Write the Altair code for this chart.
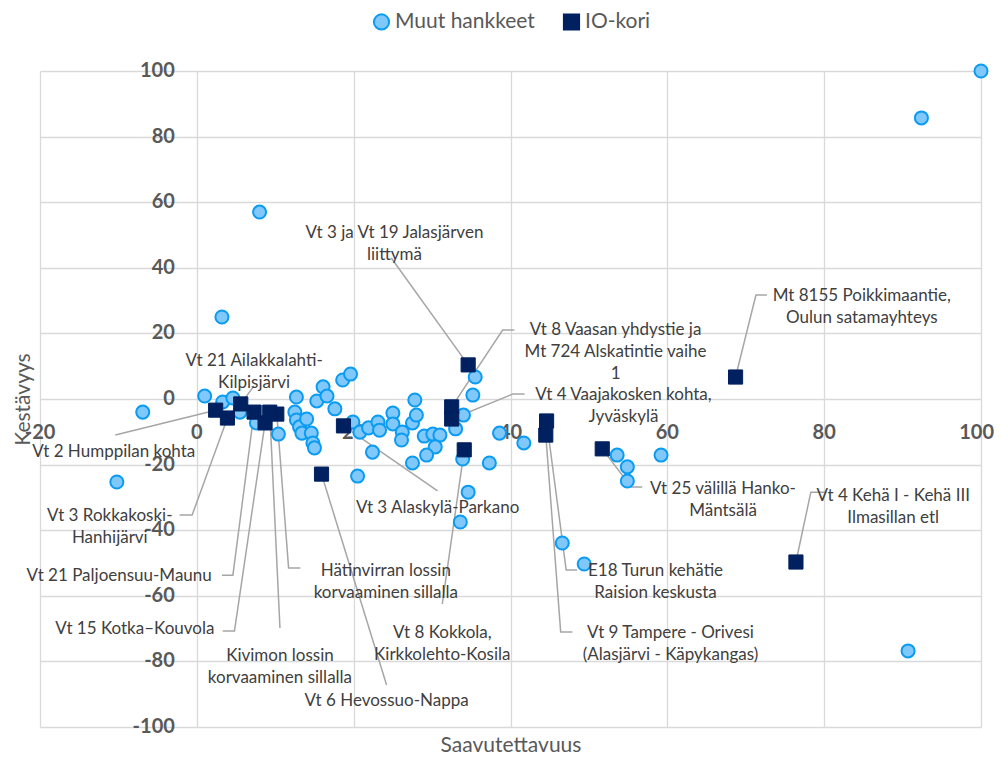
import altair as alt
import pandas as pd

# ---------------- data ----------------
muut_x = [100, 92.4, 8.0, 3.2, -6.9, -10.2, 90.7, 49.4, 46.6, 33.6, 34.6, 41.7, 38.6, 37.3,
          35.5, 35.2, 34.0, 33.0, 33.9, 53.6, 54.9, 54.9, 59.2, 20.5, 27.5,
          1.0, 3.3, 4.6, 5.5, 7.6, 10.4, 12.7, 12.5, 12.7, 13.1, 13.4, 14.0, 14.6, 14.8, 15.0,
          15.3, 16.1, 16.6, 17.6, 18.6, 19.6, 19.9, 20.8, 21.9, 22.4, 23.1, 23.3,
          25.0, 25.0, 26.2, 26.1, 27.5, 28.0, 27.8, 29.0, 30.1, 31.0, 30.4, 29.3]
muut_y = [100, 85.7, 57.0, 25.0, -4.0, -25.3, -76.8, -50.3, -43.9, -37.5, -28.4, -13.4, -10.4, -19.5,
          6.7, 1.2, -4.9, -9.1, -18.3, -17.1, -20.7, -25.0, -17.1, -23.5, -19.5,
          0.9, -0.9, 0.3, -4.0, -7.3, -10.7, 0.6, -4.0, -6.4, -8.5, -10.4, -6.1, -10.4, -13.4, -14.9,
          -0.6, 3.7, 0.9, -3.0, 5.8, 7.6, -7.0, -10.1, -8.8, -16.2, -7.0, -9.5,
          -4.3, -7.6, -10.1, -12.5, -7.3, -4.9, -0.3, -11.3, -10.7, -11.0, -14.6, -17.1]

io_names = ["Vt 3 ja Vt 19 Jalasjärven\nliittymä",
            "Vt 8 Vaasan yhdystie ja\nMt 724 Alskatintie vaihe\n1",
            "Vt 4 Vaajakosken kohta,\nJyväskylä",
            "Mt 8155 Poikkimaantie,\nOulun satamayhteys",
            "Vt 4 Kehä I - Kehä III\nIlmasillan etl",
            "Vt 25 välillä Hanko-\nMäntsälä",
            "E18 Turun kehätie\nRaision keskusta",
            "Vt 9 Tampere - Orivesi\n(Alasjärvi - Käpykangas)",
            "Vt 3 Alaskylä-Parkano",
            "Vt 8 Kokkola,\nKirkkolehto-Kosila",
            "Vt 6 Hevossuo-Nappa",
            "Hätinvirran lossin\nkorvaaminen sillalla",
            "Vt 21 Ailakkalahti-\nKilpisjärvi",
            "Vt 2 Humppilan kohta",
            "Vt 3 Rokkakoski-\nHanhijärvi",
            "Vt 21 Paljoensuu-Maunu",
            "Vt 15 Kotka–Kouvola",
            "Kivimon lossin\nkorvaaminen sillalla"]
io_x = [34.6, 32.5, 32.5, 68.7, 76.4, 51.7, 44.6, 44.5, 18.7, 34.1, 15.9, 10.2, 5.6, 2.4, 3.9, 7.3, 8.7, 9.3]
io_y = [10.4, -2.4, -6.1, 6.7, -49.7, -15.2, -6.7, -11.0, -8.2, -15.5, -22.9, -4.6, -1.5, -3.4, -5.8, -4.0, -7.3, -4.0]

# label anchor (centre of text block) for each IO-kori project
label_x = [25.2, 53.4, 54.4, 84.8, 88.8, 67.1, 58.5, 60.4, 30.7, 31.3, 24.2, 24.1, 7.3, -10.6, -11.1, -9.9, -7.9, 10.6]
label_y = [50.6, 21.0, 1.1, 31.3, -29.6, -27.4, -52.4, -71.2, -33.2, -71.2, -92.1, -52.3, 11.6, -16.2, -35.7, -54.0, -70.1, -78.5]

# leader-line bend points (after the marker) for each label
leader_x = [[24.8], [39.0, 40.5], [40.3, 41.8], [71.3, 72.7], [78.3, 80.3], [55.4, 56.8],
            [47.1, 48.5], [46.4, 47.9], [30.7], [31.3], [24.2], [11.7, 13.2], [7.3], [-10.4],
            [-0.6, -2.2], [4.6, 3.2], [4.8, 3.3], [10.6]]
leader_y = [[43.0], [21.0, 21.0], [1.5, 1.5], [31.7, 31.7], [-28.4, -28.4], [-26.8, -26.8],
            [-52.1, -52.1], [-71.0, -71.0], [-28.0], [-62.5], [-87.2], [-51.5, -51.5], [4.0], [-11.0],
            [-35.4, -35.4], [-53.7, -53.7], [-70.7, -70.7], [-69.8]]

x_ticks = [-20, 0, 20, 40, 60, 80, 100]
y_ticks = [-100, -80, -60, -40, -20, 0, 20, 40, 60, 80, 100]

series = ["Muut hankkeet", "IO-kori"]

# ---------------- frames ----------------
pts = pd.DataFrame({"x": muut_x + io_x, "y": muut_y + io_y,
                    "grp": [series[0]] * len(muut_x) + [series[1]] * len(io_x)})
lab = pd.DataFrame({"x": label_x, "y": label_y, "t": io_names})
rows = []
for i in range(len(io_names)):
    xs_ = [io_x[i]] + leader_x[i]
    ys_ = [io_y[i]] + leader_y[i]
    for k, (a, b) in enumerate(zip(xs_, ys_)):
        rows.append({"id": i, "k": k, "x": a, "y": b})
lead = pd.DataFrame(rows)
xt = pd.DataFrame({"x": x_ticks[:-1], "y": [0] * (len(x_ticks) - 1),
                   "t": [str(v) for v in x_ticks[:-1]]})
xt_last = pd.DataFrame({"x": [x_ticks[-1]], "y": [0], "t": [str(x_ticks[-1])]})
yt = pd.DataFrame({"x": [0] * len(y_ticks), "y": y_ticks, "t": [str(v) for v in y_ticks]})

FONT = "Lato"
GRID = "#d9d9d9"

xaxis = alt.Axis(values=x_ticks, labels=False, ticks=False, domain=False, grid=True,
                 gridColor=GRID, gridWidth=1.3, title="Saavutettavuus",
                 titleFont=FONT, titleFontSize=21, titleFontWeight="normal",
                 titleColor="#595959", titlePadding=7)
yaxis = alt.Axis(values=y_ticks, labels=False, ticks=False, domain=False, grid=True,
                 gridColor=GRID, gridWidth=1.3, title="Kestävyys",
                 titleFont=FONT, titleFontSize=21, titleFontWeight="normal",
                 titleColor="#595959", titlePadding=7)
xs = alt.Scale(domain=[-20, 100], nice=False, zero=False)
ys = alt.Scale(domain=[-100, 100], nice=False, zero=False)

def X():
    return alt.X("x:Q", scale=xs, axis=xaxis)

def Y():
    return alt.Y("y:Q", scale=ys, axis=yaxis)

fill = alt.Fill("grp:N", scale=alt.Scale(domain=series, range=["#80C8FA", "#002060"]),
                legend=alt.Legend(title=None))
stroke = alt.Stroke("grp:N", scale=alt.Scale(domain=series, range=["#0A9BF2", "#002060"]),
                    legend=alt.Legend(title=None))
shape = alt.Shape("grp:N", scale=alt.Scale(domain=series, range=["circle", "square"]),
                  legend=alt.Legend(title=None))

leaders = alt.Chart(lead).mark_line(color="#a6a6a6", strokeWidth=1.5).encode(
    x=X(), y=Y(), detail="id:N", order="k:Q")

circles = alt.Chart(pts).transform_filter(alt.datum.grp == series[0]).mark_point(
    filled=True, opacity=1, strokeWidth=2, size=170).encode(
    x=X(), y=Y(), fill=fill, stroke=stroke, shape=shape)

squares = alt.Chart(pts).transform_filter(alt.datum.grp == series[1]).mark_point(
    filled=True, opacity=1, strokeWidth=1, size=200).encode(
    x=X(), y=Y(), fill=fill, stroke=stroke, shape=shape)

labels = alt.Chart(lab).mark_text(font=FONT, fontSize=17, color="#404040",
                                  lineBreak="\n", lineHeight=22, align="center",
                                  baseline="middle").encode(x=X(), y=Y(), text="t:N")

tick_style = dict(font=FONT, fontSize=20, fontWeight="bold", color="#595959", baseline="middle")
xtl = alt.Chart(xt).mark_text(align="center", dy=34, **tick_style).encode(
    x=X(), y=Y(), text="t:N")
xtl_last = alt.Chart(xt_last).mark_text(align="right", dx=13, dy=34, **tick_style).encode(
    x=X(), y=Y(), text="t:N")
ytl = alt.Chart(yt).mark_text(align="right", dx=-22, **tick_style).encode(
    x=X(), y=Y(), text="t:N")

chart = alt.layer(xtl, xtl_last, ytl, leaders, circles, squares, labels).properties(
    width=941, height=656,
    autosize=alt.AutoSizeParams(type="none"),
    padding={"left": 32, "top": 63, "right": 13, "bottom": 27},
).configure_view(stroke=None).configure_legend(
    orient="none", legendX=331, legendY=-60, direction="horizontal",
    labelFont=FONT, labelFontSize=21, labelColor="#595959", symbolSize=230,
    symbolStrokeWidth=2, columnPadding=24, labelOffset=3, padding=0,
)

chart.save("out.html", embed_options={"renderer": "svg", "actions": False})
